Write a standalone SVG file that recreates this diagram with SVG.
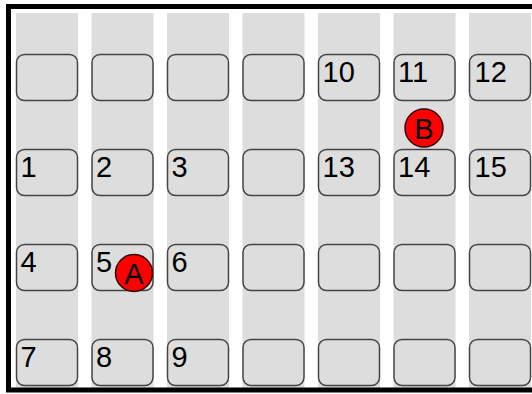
<svg xmlns="http://www.w3.org/2000/svg" width="532" height="394" viewBox="0 0 532 394">
<style>
.col{fill:#dddddd}
.node{fill:#dddddd;stroke:#444444;stroke-width:1.5}
.lbl{font-family:"Liberation Sans",Arial,sans-serif;font-size:29px;fill:#000}
.mk{fill:#ff0000;stroke:#330000;stroke-width:1.5}
.mkt{font-family:"Liberation Sans",Arial,sans-serif;font-size:29px;fill:#000;text-anchor:middle}
</style>
<rect x="0" y="0" width="532" height="394" fill="#fff"/>
<g id="columns">
<rect class="col" x="16" y="13" width="62" height="376"/>
<rect class="col" x="91.5" y="13" width="62" height="376"/>
<rect class="col" x="167" y="13" width="62" height="376"/>
<rect class="col" x="242.5" y="13" width="62" height="376"/>
<rect class="col" x="318" y="13" width="62" height="376"/>
<rect class="col" x="393.5" y="13" width="62" height="376"/>
<rect class="col" x="469" y="13" width="62" height="376"/>
</g>
<rect x="8.5" y="6.5" width="540" height="383.5" fill="none" stroke="#000" stroke-width="5"/>
<g id="row1">
<g id="n-r1c1"><rect class="node" x="16.5" y="54.5" width="61" height="46" rx="8"/></g>
<g id="n-r1c2"><rect class="node" x="92" y="54.5" width="61" height="46" rx="8"/></g>
<g id="n-r1c3"><rect class="node" x="167.5" y="54.5" width="61" height="46" rx="8"/></g>
<g id="n-r1c4"><rect class="node" x="243" y="54.5" width="61" height="46" rx="8"/></g>
<g id="n10"><rect class="node" x="318.5" y="54.5" width="61" height="46" rx="8"/><text class="lbl" x="322.5" y="82">10</text></g>
<g id="n11"><rect class="node" x="394" y="54.5" width="61" height="46" rx="8"/><text class="lbl" x="398" y="82">11</text></g>
<g id="n12"><rect class="node" x="469.5" y="54.5" width="61" height="46" rx="8"/><text class="lbl" x="474.5" y="82">12</text></g>
</g>
<g id="row2">
<g id="n1"><rect class="node" x="16.5" y="149.5" width="61" height="46" rx="8"/><text class="lbl" x="20.5" y="177">1</text></g>
<g id="n2"><rect class="node" x="92" y="149.5" width="61" height="46" rx="8"/><text class="lbl" x="96" y="177">2</text></g>
<g id="n3"><rect class="node" x="167.5" y="149.5" width="61" height="46" rx="8"/><text class="lbl" x="171.5" y="177">3</text></g>
<g id="n-r2c4"><rect class="node" x="243" y="149.5" width="61" height="46" rx="8"/></g>
<g id="n13"><rect class="node" x="318.5" y="149.5" width="61" height="46" rx="8"/><text class="lbl" x="322.5" y="177">13</text></g>
<g id="n14"><rect class="node" x="394" y="149.5" width="61" height="46" rx="8"/><text class="lbl" x="398" y="177">14</text></g>
<g id="n15"><rect class="node" x="469.5" y="149.5" width="61" height="46" rx="8"/><text class="lbl" x="474.5" y="177">15</text></g>
</g>
<g id="row3">
<g id="n4"><rect class="node" x="16.5" y="244.5" width="61" height="46" rx="8"/><text class="lbl" x="20.5" y="272">4</text></g>
<g id="n5"><rect class="node" x="92" y="244.5" width="61" height="46" rx="8"/><text class="lbl" x="96" y="272">5</text></g>
<g id="n6"><rect class="node" x="167.5" y="244.5" width="61" height="46" rx="8"/><text class="lbl" x="171.5" y="272">6</text></g>
<g id="n-r3c4"><rect class="node" x="243" y="244.5" width="61" height="46" rx="8"/></g>
<g id="n-r3c5"><rect class="node" x="318.5" y="244.5" width="61" height="46" rx="8"/></g>
<g id="n-r3c6"><rect class="node" x="394" y="244.5" width="61" height="46" rx="8"/></g>
<g id="n-r3c7"><rect class="node" x="469.5" y="244.5" width="61" height="46" rx="8"/></g>
</g>
<g id="row4">
<g id="n7"><rect class="node" x="16.5" y="339.5" width="61" height="46" rx="8"/><text class="lbl" x="20.5" y="367">7</text></g>
<g id="n8"><rect class="node" x="92" y="339.5" width="61" height="46" rx="8"/><text class="lbl" x="96" y="367">8</text></g>
<g id="n9"><rect class="node" x="167.5" y="339.5" width="61" height="46" rx="8"/><text class="lbl" x="171.5" y="367">9</text></g>
<g id="n-r4c4"><rect class="node" x="243" y="339.5" width="61" height="46" rx="8"/></g>
<g id="n-r4c5"><rect class="node" x="318.5" y="339.5" width="61" height="46" rx="8"/></g>
<g id="n-r4c6"><rect class="node" x="394" y="339.5" width="61" height="46" rx="8"/></g>
<g id="n-r4c7"><rect class="node" x="469.5" y="339.5" width="61" height="46" rx="8"/></g>
</g>
<g id="connectors"></g>
<g id="marker-A"><circle class="mk" cx="134" cy="273" r="18.5"/><text class="mkt" x="134" y="283.5">A</text></g>
<g id="marker-B"><circle class="mk" cx="424" cy="128" r="19"/><text class="mkt" x="424" y="138.5">B</text></g>
</svg>
